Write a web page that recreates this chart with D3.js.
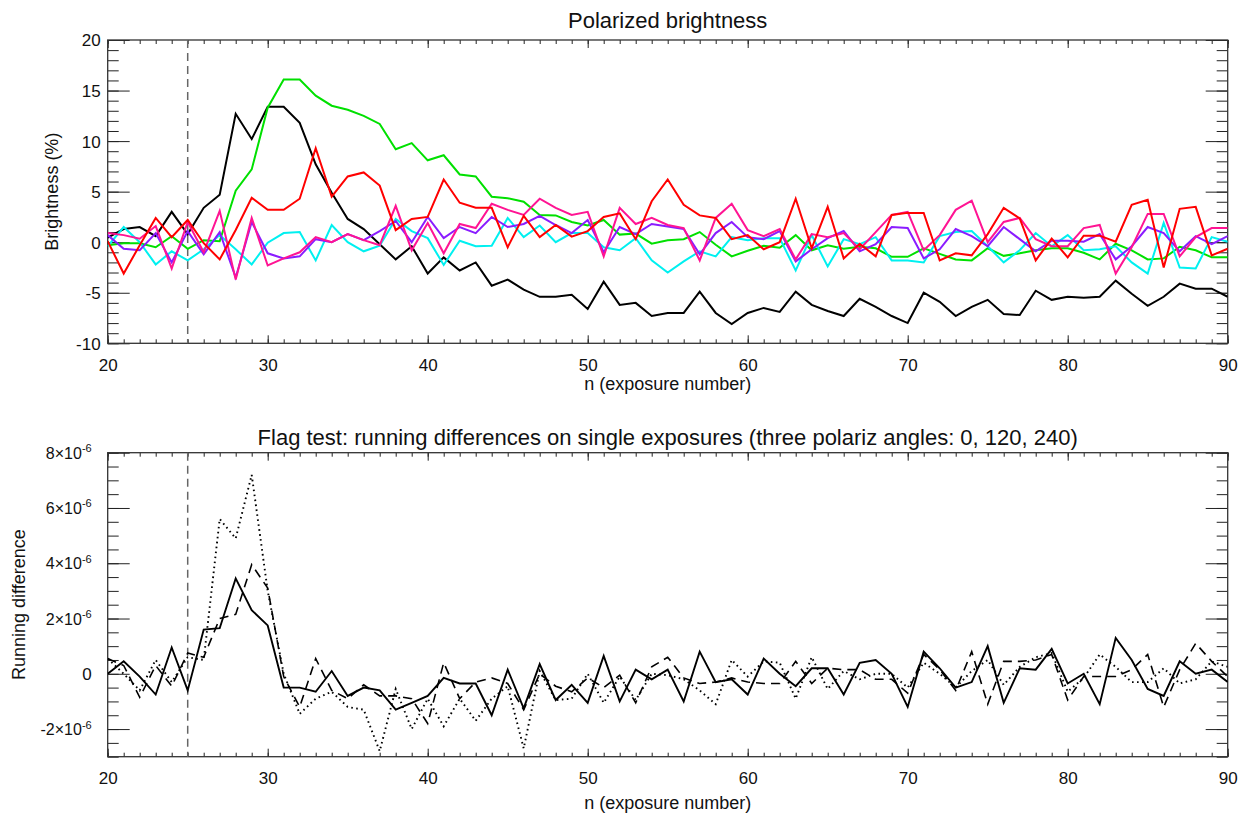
<!DOCTYPE html>
<html>
<head>
<meta charset="utf-8">
<script src="https://cdn.jsdelivr.net/npm/d3@7"></script>
<style>
  html, body { margin: 0; padding: 0; background: #fff; }
  svg { display: block; }
  text { font-family: "Liberation Sans", Arial, Helvetica, sans-serif; fill: #111; }
</style>
</head>
<body>
<svg id="chart" width="1247" height="814"></svg>
<script>
// ---------------- DATA ----------------
const exposures = d3.range(20, 91); // n = 20 .. 90

// Polarized brightness (%)
const pbBlack = [0.45,1.3,1.5,0.6,3.0,0.8,3.4,4.7,12.7,10.2,13.4,13.4,11.8,7.7,4.9,2.3,1.3,-0.2,-1.7,-0.4,
  -3.1,-1.5,-2.8,-2.0,-4.3,-3.7,-4.7,-5.4,-5.4,-5.2,-6.6,-3.9,-6.2,-6.0,-7.3,-7.0,-7.0,-4.9,-7.0,-8.1,
  -7.0,-6.5,-6.9,-4.9,-6.2,-6.8,-7.3,-5.6,-6.4,-7.3,-8.0,-5.0,-5.9,-7.3,-6.4,-5.7,-7.1,-7.2,-4.8,-5.7,
  -5.4,-5.5,-5.4,-3.8,-5.1,-6.3,-5.4,-4.1,-4.6,-4.6,-5.4];
const pbGreen = [-0.3,-0.1,-0.1,-0.5,0.6,-0.65,0.2,0.1,5.1,7.2,13.3,16.1,16.1,14.5,13.5,13.1,12.5,11.7,9.2,9.8,
  8.1,8.6,6.7,6.5,4.5,4.35,4.0,2.7,2.65,2.0,1.65,2.2,0.75,0.85,-0.15,0.2,0.3,1.0,-0.25,-1.4,
  -0.85,-0.35,-0.55,0.7,-0.8,-0.3,-0.65,-0.45,-0.6,-1.45,-1.45,-0.6,-1.15,-1.7,-1.8,-0.6,-1.35,-1.1,-0.8,-0.6,
  -0.6,-1.05,-1.7,-0.15,-0.8,-1.7,-1.6,-0.45,-0.8,-1.5,-1.5];
const pbRed = [0.1,-3.1,-0.3,2.4,0.5,2.2,-0.1,-1.7,1.2,4.4,3.2,3.2,4.3,9.3,4.5,6.5,6.9,5.6,1.2,2.3,
  2.5,6.2,3.9,3.4,3.4,-0.5,2.6,0.5,1.7,0.55,1.1,2.5,2.85,0.3,4.05,6.2,3.7,2.65,2.4,0.3,
  0.7,-0.7,0.0,4.3,-0.6,3.5,-1.6,-0.15,-1.4,2.7,2.9,2.9,-1.8,-1.1,-1.3,0.8,3.4,2.35,-1.8,0.35,
  -1.5,0.65,0.65,0.05,3.7,4.2,-2.5,3.3,3.5,-1.3,-0.65];
const pbCyan = [-0.4,1.5,0,-2.2,-0.9,-1.8,-0.7,0.7,-0.7,-2.2,-0.05,0.9,1.0,-1.8,1.7,0,-0.9,-0.35,2.3,1.1,
  0.4,-2.25,0.15,-0.4,-0.35,2.4,0.5,1.65,0,0.9,0.9,-0.5,-0.8,0.4,-1.8,-3.0,-1.9,-0.9,-1.4,0.5,
  0.2,0.4,0.4,-2.8,0.7,-2.4,0.3,-0.2,0.5,-1.8,-1.8,-2.0,0.6,1.0,1.1,-0.4,-2.0,-0.8,0.9,-0.4,
  0.7,-0.8,-0.7,-0.4,-2.0,-3.1,1.9,-2.5,-2.6,0.5,0.05];
const pbPurple = [0.7,-0.65,-0.8,0.9,-2.0,1.1,-1.2,1.0,-3.5,2.0,-1.1,-1.6,-1.4,0.3,0,0.8,0.2,1.1,2.1,0,
  2.5,0.4,1.5,0.9,2.5,1.5,1.8,2.6,1.7,0.9,2.2,-1.0,1.5,0.8,1.8,1.55,1.3,-1.2,0.9,2.0,
  0.5,0.3,1.1,-1.9,-0.7,0.4,1.1,-0.9,-0.2,1.5,1.4,-1.6,-0.7,1.3,0.6,-0.4,1.5,0.3,-0.9,0.15,
  0.15,0.05,0.8,-1.7,-0.4,1.5,0.9,-0.9,0.6,-0.2,0.6];
const pbMagenta = [0.9,0.7,0.35,1.6,-2.6,2.0,-1.0,3.1,-3.7,2.4,-2.3,-1.6,-1.0,0.5,0,0.8,0.2,-0.3,3.6,-0.8,
  1.9,-1.1,1.8,1.4,3.8,3.2,2.7,4.3,3.4,2.7,3.0,-1.4,3.4,1.8,2.4,1.7,1.4,-1.8,2.4,3.8,
  1.2,0.6,1.3,-1.7,0.8,0.5,0.9,-0.7,1.0,2.7,3.0,-0.8,0.7,3.2,4.1,0,2.0,2.4,0.3,-0.4,
  -0.4,1.4,1.7,-3.1,-0.5,2.8,2.8,-1.4,0.5,1.4,1.4];

// Running differences (units of 1e-6)
const rdSolid = [0,0.45,-0.1,-0.75,0.95,-0.6,1.6,1.65,3.45,2.3,1.75,-0.5,-0.5,-0.65,0.1,-0.8,-0.5,-0.6,-1.3,-1.05,
  -0.8,-0.15,-0.35,-0.35,-1.5,0.15,-1.25,0.35,-0.95,-0.4,-1.05,0.65,-1.0,0.15,-0.2,0.15,-1.0,0.8,-0.3,-0.2,
  -0.75,0.55,0,-0.45,0.2,0.2,-0.75,0.4,0.5,0,-1.2,0.8,0.2,-0.5,-0.3,1.0,-1.05,0.2,0.15,0.9,
  -0.35,0,-1.1,1.3,0.5,-0.55,-0.8,0.45,0,0.15,-0.3];
const rdDashed = [0.55,0.3,-0.85,0.3,-0.45,0.75,0.6,2.0,2.15,3.95,3.1,-0.1,-1.2,0.55,-0.6,-0.9,-0.4,-0.8,-0.8,-0.9,
  -1.8,0.4,-0.9,-0.3,-0.15,-0.35,-1.3,0,-0.45,-0.65,-0.15,-0.5,-0.05,-1.05,0.25,0.6,-0.15,-0.35,-0.3,-0.15,
  -0.3,-0.35,-0.35,0.45,-0.35,0.2,0.15,0.15,-0.2,-0.2,-0.7,0.7,0.15,-0.6,0.8,-1.1,0.45,0.45,0.5,0.7,
  -0.95,-0.1,-0.1,-0.1,0.15,0.7,-1.2,0.15,1.1,0.45,-0.1];
const rdDotted = [0.55,0,-0.6,0.5,-0.3,0.6,0.5,5.6,4.9,7.2,3.0,0,-1.45,-0.9,-0.65,-1.2,-1.3,-2.8,-0.55,-2.0,
  -0.9,-1.9,-0.9,-1.7,-0.9,-0.45,-2.7,0.1,-0.95,-0.9,0,-1.05,-0.1,-0.95,0,-0.05,-0.2,-0.6,-1.1,0.5,
  -0.1,0.45,0.4,-0.9,0.6,-0.55,0.1,-0.2,0,0,-0.5,0.4,0,-0.5,0.1,0.5,-0.4,0.25,0.6,0.75,
  -0.65,-0.15,0.7,0.25,-0.3,-0.3,0.2,-0.35,-0.2,0.45,0.25];

const flagExposure = 25;
const xMajorTicks = [20, 30, 40, 50, 60, 70, 80, 90];
const topYMajor = [-10, -5, 0, 5, 10, 15, 20];
const botYMajor = [-2, 0, 2, 4, 6, 8];   // ×10^-6

const topSeries = [
  {name: "black", values: pbBlack, color: "#000000"},
  {name: "green", values: pbGreen, color: "#00e000"},
  {name: "cyan", values: pbCyan, color: "#00f0f0"},
  {name: "purple", values: pbPurple, color: "#8a1cff"},
  {name: "magenta", values: pbMagenta, color: "#ff1493"},
  {name: "red", values: pbRed, color: "#ff0000"}
];
const botSeries = [
  {name: "dotted", values: rdDotted, dash: "1.6,3.4", width: 1.9},
  {name: "dashed", values: rdDashed, dash: "9,6", width: 1.6},
  {name: "solid", values: rdSolid, dash: null, width: 1.9}
];

// ---------------- LAYOUT ----------------
const svg = d3.select("#chart");
const L = 107.7, R = 1227.7;
const P1 = {top: 40, bottom: 343.3};
const P2 = {top: 452.7, bottom: 756.7};
const FONT = '"Liberation Sans", Arial, sans-serif';

const x = d3.scaleLinear().domain([20, 90]).range([L, R]);
const y1 = d3.scaleLinear().domain([-10, 20]).range([P1.bottom, P1.top]);
const y2 = d3.scaleLinear().domain([-3, 8]).range([P2.bottom, P2.top]);

function drawFrame(y, P, yMajor, yMinorStep, yLabelFn) {
  const g = svg.append("g");
  const xMinor = d3.range(20, 91, 1);
  const [y0, y1d] = y.domain();
  const yMinor = d3.range(Math.ceil(y0 / yMinorStep) * yMinorStep, y1d + 1e-9, yMinorStep);

  const clean = sel => { sel.select(".domain").remove(); sel.selectAll("line").attr("stroke", "#222"); };

  // bottom x axis
  g.append("g").attr("transform", `translate(0,${P.bottom})`)
    .call(d3.axisBottom(x).tickValues(xMinor).tickSize(-4).tickFormat(""))
    .call(clean);
  g.append("g").attr("transform", `translate(0,${P.bottom})`)
    .call(d3.axisBottom(x).tickValues(xMajorTicks).tickSize(-8).tickPadding(12).tickFormat(d3.format("d")))
    .call(clean)
    .call(s => s.selectAll("text").attr("font-size", 17).attr("fill", "#111").attr("dy", "0.9em")
      .style("font-family", FONT));
  // top x axis (mirror)
  g.append("g").attr("transform", `translate(0,${P.top})`)
    .call(d3.axisTop(x).tickValues(xMinor).tickSize(-4).tickFormat("")).call(clean);
  g.append("g").attr("transform", `translate(0,${P.top})`)
    .call(d3.axisTop(x).tickValues(xMajorTicks).tickSize(-8).tickFormat("")).call(clean);
  // left y axis
  g.append("g").attr("transform", `translate(${L},0)`)
    .call(d3.axisLeft(y).tickValues(yMinor).tickSize(-11).tickFormat("")).call(clean);
  const la = g.append("g").attr("transform", `translate(${L},0)`)
    .call(d3.axisLeft(y).tickValues(yMajor).tickSize(-22).tickPadding(6).tickFormat(""))
    .call(clean);
  la.selectAll(".tick").each(function(d) { yLabelFn(d3.select(this), d); });
  // right y axis
  g.append("g").attr("transform", `translate(${R},0)`)
    .call(d3.axisRight(y).tickValues(yMinor).tickSize(-11).tickFormat("")).call(clean);
  g.append("g").attr("transform", `translate(${R},0)`)
    .call(d3.axisRight(y).tickValues(yMajor).tickSize(-22).tickFormat("")).call(clean);
  // box
  g.append("rect").attr("x", L).attr("y", P.top).attr("width", R - L).attr("height", P.bottom - P.top)
    .attr("fill", "none").attr("stroke", "#333").attr("stroke-width", 1.3);

  // flag vertical dashed line
  g.append("line").attr("x1", x(flagExposure)).attr("x2", x(flagExposure))
    .attr("y1", P.top).attr("y2", P.bottom)
    .attr("stroke", "#666").attr("stroke-width", 1.5).attr("stroke-dasharray", "8,5");
  return g;
}

// ---------------- TOP PANEL ----------------
drawFrame(y1, P1, topYMajor, 1, (t, d) => {
  t.append("text").attr("x", -7).attr("y", 0).attr("dy", "0.35em")
    .attr("text-anchor", "end").attr("font-size", 17).text(d);
});

const line1 = d3.line().x((d, i) => x(exposures[i])).y(d => y1(d));
svg.append("clipPath").attr("id", "clip1").append("rect")
  .attr("x", L).attr("y", P1.top).attr("width", R - L).attr("height", P1.bottom - P1.top);
svg.append("g").attr("clip-path", "url(#clip1)")
  .selectAll("path").data(topSeries).join("path")
  .attr("d", s => line1(s.values))
  .attr("fill", "none").attr("stroke", s => s.color).attr("stroke-width", 2)
  .attr("stroke-linejoin", "miter");

svg.append("text").attr("x", (L + R) / 2).attr("y", 28).attr("text-anchor", "middle")
  .attr("font-size", 22).text("Polarized brightness");
svg.append("text").attr("x", (L + R) / 2).attr("y", 390).attr("text-anchor", "middle")
  .attr("font-size", 18).text("n (exposure number)");
svg.append("text").attr("transform", `translate(58,${(P1.top + P1.bottom) / 2}) rotate(-90)`)
  .attr("text-anchor", "middle").attr("font-size", 18).text("Brightness (%)");

// ---------------- BOTTOM PANEL ----------------
drawFrame(y2, P2, botYMajor, 0.5, (t, d) => {
  const tx = t.append("text").attr("x", -16).attr("y", 0).attr("dy", "0.35em")
    .attr("text-anchor", "end").attr("font-size", 16);
  if (d === 0) { tx.attr("font-size", 17).text("0"); return; }
  tx.append("tspan").text(d + "\u00d710");
  tx.append("tspan").attr("dy", "-0.6em").attr("font-size", 11).text("-6");
});

const line2 = d3.line().x((d, i) => x(exposures[i])).y(d => y2(d));
svg.append("clipPath").attr("id", "clip2").append("rect")
  .attr("x", L).attr("y", P2.top).attr("width", R - L).attr("height", P2.bottom - P2.top);
svg.append("g").attr("clip-path", "url(#clip2)")
  .selectAll("path").data(botSeries).join("path")
  .attr("d", s => line2(s.values))
  .attr("fill", "none").attr("stroke", "#000").attr("stroke-width", s => s.width)
  .attr("stroke-dasharray", s => s.dash);

svg.append("text").attr("x", (L + R) / 2).attr("y", 445).attr("text-anchor", "middle")
  .attr("font-size", 22).text("Flag test: running differences on single exposures (three polariz angles: 0, 120, 240)");
svg.append("text").attr("x", (L + R) / 2).attr("y", 809).attr("text-anchor", "middle")
  .attr("font-size", 18).text("n (exposure number)");
svg.append("text").attr("transform", `translate(25,${(P2.top + P2.bottom) / 2}) rotate(-90)`)
  .attr("text-anchor", "middle").attr("font-size", 18).text("Running difference");
</script>
</body>
</html>
